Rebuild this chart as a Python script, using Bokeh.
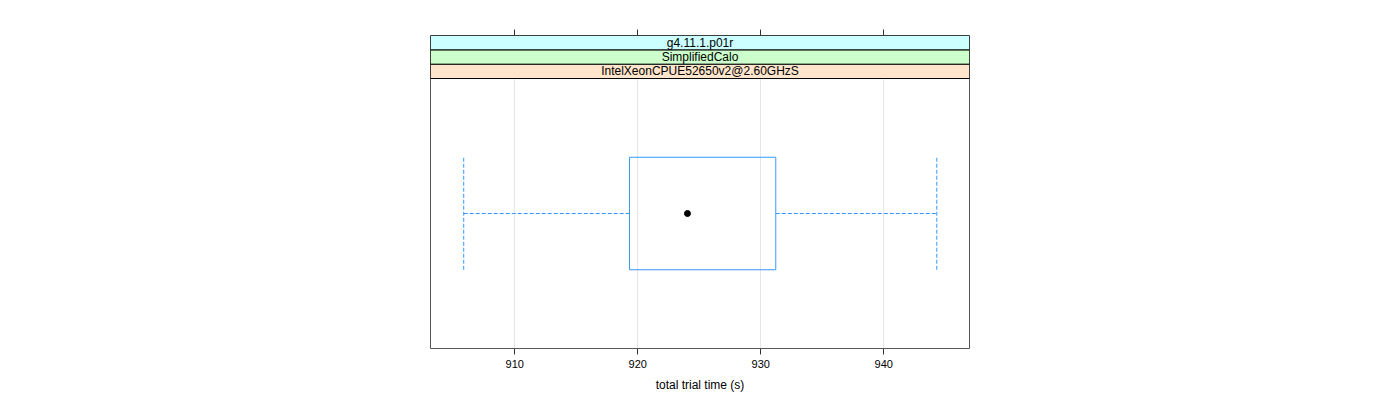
from bokeh.plotting import figure
from bokeh.models import Range1d, LinearAxis, FixedTicker, BoxAnnotation, Label, ColumnDataSource
from bokeh.embed import file_html
from bokeh.resources import INLINE

# ---- data ----
strip_labels = ["IntelXeonCPUE52650v2@2.60GHzS", "SimplifiedCalo", "g4.11.1.p01r"]
strip_colors = ["#ffe5cc", "#ccffcc", "#ccffff"]
whisker_low = [905.85]
q1 = [919.33]
median = [924.04]
q3 = [931.22]
whisker_high = [944.31]
category_pos = [1.0]
x_ticks = [910, 920, 930, 940]
x_title = "total trial time (s)"

FONT = "Liberation Sans"
BOX_COL = "#3399ff"

x_start, x_end = 903.15, 946.97
y_lo, y_hi = 0.4, 1.6
px_per_unit = 270 / (y_hi - y_lo)
strip_h = (43 / 3) / px_per_unit
y_top = y_hi + 3 * strip_h

p = figure(width=1400, height=400, output_backend="svg", toolbar_location=None,
           x_range=Range1d(x_start, x_end), y_range=Range1d(y_lo, y_top),
           min_border_left=430, min_border_right=431, min_border_top=35, min_border_bottom=52,
           frame_width=539, frame_height=313, x_axis_location=None, y_axis_location=None)
p.background_fill_color = "white"
p.border_fill_color = "white"
p.outline_line_color = "#555555"
p.outline_line_width = 1

# axes
bottom = LinearAxis(ticker=FixedTicker(ticks=x_ticks))
bottom.axis_line_color = None
bottom.major_tick_out = 6
bottom.major_tick_in = 0
bottom.minor_tick_line_color = None
bottom.major_tick_line_color = "#333333"
bottom.major_label_text_font = FONT
bottom.major_label_text_font_size = "11px"
bottom.major_label_text_color = "black"
bottom.major_label_standoff = 5
bottom.axis_label = x_title
bottom.axis_label_text_font = FONT
bottom.axis_label_text_font_size = "12px"
bottom.axis_label_text_font_style = "normal"
bottom.axis_label_text_color = "black"
bottom.axis_label_standoff = 7
p.add_layout(bottom, "below")

top = LinearAxis(ticker=FixedTicker(ticks=x_ticks))
top.axis_line_color = None
top.major_tick_out = 6
top.major_tick_in = 0
top.minor_tick_line_color = None
top.major_tick_line_color = "#333333"
top.major_label_text_font_size = "0px"
top.major_label_text_color = None
p.add_layout(top, "above")

# grid lines (vertical only)
p.xgrid.ticker = FixedTicker(ticks=x_ticks)
p.xgrid.grid_line_color = "#e6e6e6"
p.ygrid.grid_line_color = None

# box and whiskers
src = ColumnDataSource(dict(lo=whisker_low, q1=q1, med=median, q3=q3, hi=whisker_high, y=category_pos))
half = 0.25
p.quad(left="q1", right="q3", bottom=category_pos[0] - half, top=category_pos[0] + half, source=src,
       fill_color=None, line_color=BOX_COL, line_width=1)
p.segment(x0="lo", y0="y", x1="q1", y1="y", source=src, line_color=BOX_COL, line_dash="4 2", line_width=1)
p.segment(x0="q3", y0="y", x1="hi", y1="y", source=src, line_color=BOX_COL, line_dash="4 2", line_width=1)
p.segment(x0="lo", y0=category_pos[0] - half, x1="lo", y1=category_pos[0] + half, source=src,
          line_color=BOX_COL, line_dash="4 2", line_width=1)
p.segment(x0="hi", y0=category_pos[0] - half, x1="hi", y1=category_pos[0] + half, source=src,
          line_color=BOX_COL, line_dash="4 2", line_width=1)
p.scatter(x="med", y="y", source=src, size=6, fill_color="black", line_color="black", marker="circle")

# strips
for i, (lab, col) in enumerate(zip(strip_labels, strip_colors)):
    b = y_hi + i * strip_h
    t = b + strip_h
    p.add_layout(BoxAnnotation(bottom=b, top=t, fill_color=col, fill_alpha=1.0,
                               line_color="black", line_width=1, line_alpha=1.0))
    p.add_layout(Label(x=(x_start + x_end) / 2, y=(b + t) / 2, text=lab, text_align="center",
                       text_baseline="middle", text_font=FONT, text_font_size="12px",
                       text_color="black"))

open("out.html", "w").write(file_html(p, INLINE))
